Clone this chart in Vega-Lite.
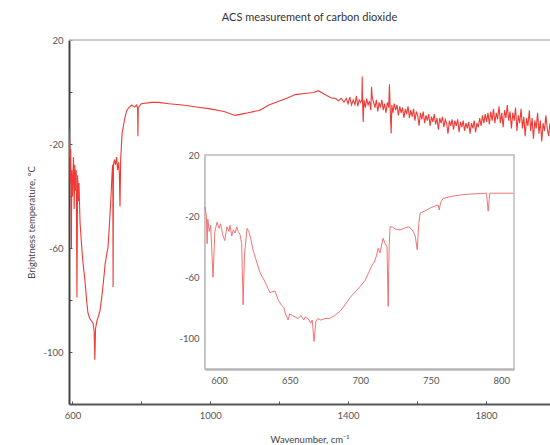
{
  "$schema": "https://vega.github.io/schema/vega-lite/v6.json",
  "autosize": {"type": "none"},
  "padding": {"left": 69, "top": 40, "right": 0, "bottom": 41},
  "width": 481,
  "height": 364,
  "background": "white",
  "config": {
    "view": {"stroke": null},
    "font": "Lato",
    "axis": {"grid": false, "labelFont": "Lato", "titleFont": "Lato", "labelFontSize": 9.5, "titleFontSize": 9.5, "titleFontWeight": "normal", "labelColor": "#555", "titleColor": "#444"}
  },
  "title": {"text": "ACS measurement of carbon dioxide", "fontSize": 11, "fontWeight": "normal", "color": "#333", "font": "Lato", "anchor": "middle", "frame": "group", "offset": 12},
  "datasets": {
    "main": [
      {"w":590,"t":-14},{"w":591,"t":-25},{"w":592,"t":-18},{"w":594,"t":-35},{"w":595,"t":-22},{"w":597,"t":-60},{"w":598,"t":-30},{"w":600,"t":-40},{"w":603,"t":-25},{"w":605,"t":-45},{"w":607,"t":-28},{"w":609,"t":-38},{"w":611,"t":-30},{"w":613,"t":-79},{"w":615,"t":-32},{"w":617,"t":-42},{"w":619,"t":-35},{"w":622,"t":-50},{"w":626,"t":-58},{"w":630,"t":-65},{"w":636,"t":-72},{"w":641,"t":-80},{"w":645,"t":-85},{"w":650,"t":-87},{"w":655,"t":-88},{"w":660,"t":-89},{"w":663,"t":-92},{"w":665,"t":-103},{"w":667,"t":-91},{"w":671,"t":-88},{"w":676,"t":-86},{"w":680,"t":-84},{"w":685,"t":-79},{"w":690,"t":-73},{"w":695,"t":-66},{"w":700,"t":-62},{"w":703,"t":-60},{"w":706,"t":-54},{"w":709,"t":-47},{"w":712,"t":-40},{"w":714,"t":-34},{"w":716,"t":-29},{"w":717,"t":-28},{"w":718,"t":-75},{"w":719,"t":-28},{"w":722,"t":-26},{"w":725,"t":-28},{"w":728,"t":-25},{"w":731,"t":-30},{"w":734,"t":-27},{"w":736,"t":-31},{"w":738,"t":-44},{"w":740,"t":-26},{"w":744,"t":-16},{"w":748,"t":-13},{"w":752,"t":-10},{"w":758,"t":-7},{"w":764,"t":-6},{"w":772,"t":-5},{"w":780,"t":-5.8},{"w":786,"t":-5},{"w":789,"t":-6},{"w":790,"t":-17},{"w":791,"t":-6},{"w":800,"t":-4.5},{"w":830,"t":-4},{"w":850,"t":-4},{"w":880,"t":-4.5},{"w":920,"t":-5},{"w":960,"t":-5.8},{"w":1000,"t":-6.5},{"w":1040,"t":-7.5},{"w":1072,"t":-9},{"w":1090,"t":-8.5},{"w":1110,"t":-8},{"w":1144,"t":-7},{"w":1170,"t":-5},{"w":1189,"t":-4},{"w":1220,"t":-2.5},{"w":1247,"t":-1},{"w":1280,"t":-0.5},{"w":1300,"t":-0.2},{"w":1314,"t":0.5},{"w":1330,"t":-0.8},{"w":1350,"t":-2.2},{"w":1365,"t":-2.6},{"w":1372,"t":-3.4},{"w":1380,"t":-2.4},{"w":1388,"t":-3.9},
      {"w":1395,"t":-2.5},{"w":1400,"t":-4.5},{"w":1405,"t":-2},{"w":1410,"t":-5},{"w":1415,"t":-3},{"w":1420,"t":-4.8},{"w":1424,"t":-1.5},{"w":1428,"t":-5.5},{"w":1432,"t":-3},{"w":1436,"t":-4},{"w":1440,"t":-3},{"w":1441,"t":6},{"w":1442,"t":-4},{"w":1444,"t":-11.5},{"w":1446,"t":-3},{"w":1450,"t":-6},{"w":1454,"t":-2.5},{"w":1458,"t":-5},{"w":1462,"t":-3.5},{"w":1466,"t":-7},{"w":1468,"t":2},{"w":1470,"t":-2},{"w":1474,"t":-4},{"w":1478,"t":-6},{"w":1482,"t":-3},{"w":1486,"t":-7.5},{"w":1490,"t":-4},{"w":1494,"t":-6},{"w":1498,"t":-3},{"w":1502,"t":-7},{"w":1506,"t":-4.5},{"w":1510,"t":-8},{"w":1514,"t":-4},{"w":1518,"t":-6},{"w":1520,"t":3},{"w":1522,"t":-6},{"w":1525,"t":-16},{"w":1527,"t":-5},{"w":1530,"t":-8},{"w":1534,"t":-4.5},{"w":1538,"t":-7},{"w":1542,"t":-5},{"w":1546,"t":-9},{"w":1550,"t":-5.5},{"w":1554,"t":-8},{"w":1558,"t":-6},{"w":1562,"t":-10},{"w":1566,"t":-6.5},{"w":1570,"t":-8.5},{"w":1574,"t":-5.5},{"w":1578,"t":-10},{"w":1582,"t":-7},{"w":1586,"t":-9.5},{"w":1590,"t":-6.5},{"w":1594,"t":-11},{"w":1598,"t":-7.5},{"w":1602,"t":-9},{"w":1606,"t":-13},{"w":1610,"t":-8},{"w":1614,"t":-10.5},{"w":1618,"t":-7.5},{"w":1622,"t":-12},{"w":1626,"t":-9},{"w":1630,"t":-11},{"w":1634,"t":-8.5},{"w":1638,"t":-13},{"w":1642,"t":-9.5},{"w":1646,"t":-11.5},{"w":1650,"t":-8.5},{"w":1654,"t":-12.5},{"w":1658,"t":-10},{"w":1662,"t":-14.5},{"w":1666,"t":-10},{"w":1670,"t":-12},{"w":1674,"t":-9.5},{"w":1678,"t":-13.5},{"w":1682,"t":-10.5},{"w":1686,"t":-12},{"w":1690,"t":-16},{"w":1694,"t":-11},{"w":1698,"t":-13},{"w":1702,"t":-10.5},{"w":1706,"t":-14.5},{"w":1710,"t":-11},{"w":1714,"t":-13},{"w":1718,"t":-10.5},{"w":1722,"t":-15.5},{"w":1726,"t":-11.5},{"w":1730,"t":-13.5},{"w":1734,"t":-11},{"w":1738,"t":-15},{"w":1742,"t":-12},{"w":1746,"t":-14},{"w":1750,"t":-11.5},{"w":1754,"t":-16},{"w":1758,"t":-12},{"w":1762,"t":-14},{"w":1766,"t":-11},{"w":1770,"t":-15.5},{"w":1774,"t":-12},{"w":1778,"t":-13.5},{"w":1782,"t":-10},{"w":1786,"t":-13},{"w":1790,"t":-9},{"w":1794,"t":-12},{"w":1798,"t":-8.5},{"w":1802,"t":-11.5},{"w":1806,"t":-8},{"w":1810,"t":-12.5},{"w":1814,"t":-7.5},{"w":1818,"t":-11},{"w":1822,"t":-6.5},{"w":1826,"t":-12},{"w":1830,"t":-8},{"w":1834,"t":-10.5},{"w":1838,"t":-5.5},{"w":1842,"t":-12},{"w":1846,"t":-8},{"w":1850,"t":-13.5},{"w":1854,"t":-7},{"w":1858,"t":-10},{"w":1862,"t":-5},{"w":1866,"t":-11},{"w":1870,"t":-7.5},{"w":1874,"t":-14},{"w":1878,"t":-8},{"w":1882,"t":-11},{"w":1886,"t":-6},{"w":1890,"t":-15},{"w":1894,"t":-9},{"w":1898,"t":-12},{"w":1902,"t":-6.5},{"w":1906,"t":-14},{"w":1910,"t":-9.5},{"w":1914,"t":-17},{"w":1918,"t":-10},{"w":1922,"t":-13},{"w":1926,"t":-7},{"w":1930,"t":-15},{"w":1934,"t":-10},{"w":1938,"t":-18},{"w":1942,"t":-11},{"w":1946,"t":-14},{"w":1950,"t":-8},{"w":1954,"t":-16},{"w":1958,"t":-11},{"w":1962,"t":-19},{"w":1966,"t":-12},{"w":1970,"t":-15},{"w":1974,"t":-9},{"w":1978,"t":-14},{"w":1982,"t":-17},{"w":1986,"t":-12}
    ],
    "inset": [
      {"w":590,"t":-14},{"w":591,"t":-20},{"w":591.5,"t":-38},{"w":592,"t":-22},{"w":593,"t":-30},{"w":594,"t":-26},{"w":595.7,"t":-60},{"w":597,"t":-30},{"w":598.5,"t":-24},{"w":600,"t":-28},{"w":601,"t":-25},{"w":602.5,"t":-32},{"w":604,"t":-36},{"w":605.5,"t":-27},{"w":607,"t":-30},{"w":607.7,"t":-26},{"w":609,"t":-33},{"w":610,"t":-29},{"w":611.3,"t":-31},{"w":612.5,"t":-27},{"w":613.5,"t":-30},{"w":614.8,"t":-32},{"w":616,"t":-38},{"w":617,"t":-78},{"w":618,"t":-45},{"w":619.8,"t":-28},{"w":621,"t":-30},{"w":622.5,"t":-35},{"w":624,"t":-42},{"w":626,"t":-48},{"w":629,"t":-57},{"w":632,"t":-62},{"w":636,"t":-70},{"w":639.6,"t":-69},{"w":642,"t":-75},{"w":644,"t":-78},{"w":646,"t":-80},{"w":646.7,"t":-83},{"w":648.9,"t":-88},{"w":650,"t":-84},{"w":652,"t":-85},{"w":654,"t":-86},{"w":656,"t":-87},{"w":658,"t":-85},{"w":660,"t":-88},{"w":661,"t":-86},{"w":663,"t":-87},{"w":665,"t":-90},{"w":666,"t":-88},{"w":667.3,"t":-102},{"w":668.5,"t":-89},{"w":670,"t":-87},{"w":672,"t":-88},{"w":675,"t":-87},{"w":678,"t":-87},{"w":682,"t":-85},{"w":686,"t":-82},{"w":690,"t":-77},{"w":693,"t":-73},{"w":697,"t":-69},{"w":700,"t":-66},{"w":703.5,"t":-62},{"w":706,"t":-57},{"w":708.4,"t":-52},{"w":710,"t":-50},{"w":711.5,"t":-46},{"w":712.7,"t":-41},{"w":714,"t":-44},{"w":716.2,"t":-34.5},{"w":717.7,"t":-38},{"w":719,"t":-40},{"w":719.8,"t":-79},{"w":720.5,"t":-40},{"w":721.2,"t":-27},{"w":722.6,"t":-27},{"w":725,"t":-28.5},{"w":728.3,"t":-29},{"w":731,"t":-28},{"w":734,"t":-27},{"w":736,"t":-28},{"w":737.5,"t":-30},{"w":739,"t":-33},{"w":740.4,"t":-42},{"w":741.5,"t":-25},{"w":742.5,"t":-18},{"w":746,"t":-16.5},{"w":750,"t":-14.5},{"w":754.5,"t":-12.8},{"w":755.5,"t":-13},{"w":756,"t":-16},{"w":757,"t":-11},{"w":758.8,"t":-8.4},{"w":765,"t":-7},{"w":772,"t":-6},{"w":778,"t":-5.6},{"w":785,"t":-5.2},{"w":789.5,"t":-5},{"w":790.7,"t":-16.7},{"w":791.8,"t":-5},{"w":800,"t":-5},{"w":808.5,"t":-5}
    ]
  },
  "layer": [
    {
      "layer": [
        {
          "data": {"name": "main"},
          "mark": {"type": "line", "color": "#ee3b36", "strokeWidth": 1.1, "clip": true},
          "encoding": {
            "x": {"field": "w", "type": "quantitative", "scale": {"domain": [590, 1986], "nice": false, "zero": false},
              "axis": {"values": [600, 800, 1000, 1200, 1400, 1600, 1800], "labelExpr": "((datum.value - 600) % 400 == 0) ? '' + datum.value : ''", "title": "Wavenumber, cm⁻¹", "domainColor": "#555", "domainWidth": 2, "tickColor": "#555", "tickSize": -3, "tickWidth": 1, "labelPadding": 9, "titlePadding": 15, "labelFlush": false}},
            "y": {"field": "t", "type": "quantitative", "scale": {"domain": [-120, 20], "nice": false, "zero": false},
              "axis": {"values": [20, 0, -20, -40, -60, -80, -100], "labelExpr": "((datum.value - 20) % 40 == 0) ? '' + datum.value : ''", "title": "Brightness temperature, ºC", "domainColor": "#444", "domainWidth": 2, "tickColor": "#555", "tickSize": -3, "tickWidth": 1, "labelPadding": 9, "titlePadding": 6, "labelFlush": false}}
          }
        },
        {
          "data": {"values": [{}]},
          "mark": {"type": "rule", "color": "#bbb", "strokeWidth": 1.5},
          "encoding": {"y": {"datum": 20}}
        }
      ]
    },
    {
      "layer": [
        {
          "data": {"values": [{}]},
          "mark": {"type": "rect", "fill": "white", "stroke": "#bbb", "strokeWidth": 1.5},
          "encoding": {
            "x": {"datum": 590}, "x2": {"datum": 809},
            "y": {"datum": -120}, "y2": {"datum": 20}
          }
        },
        {
          "data": {"name": "inset"},
          "mark": {"type": "line", "color": "#f06464", "strokeWidth": 0.9},
          "encoding": {
            "x": {"field": "w", "type": "quantitative", "scale": {"domain": [590, 809], "range": [136, 445], "nice": false, "zero": false},
              "axis": {"orient": "bottom", "offset": -35, "values": [600, 625, 650, 675, 700, 725, 750, 775, 800], "labelExpr": "(datum.value % 50 == 0) ? '' + datum.value : ''", "title": null, "domainColor": "#999", "domainWidth": 2, "tickColor": "#999", "tickSize": -3, "labelPadding": 9, "labelFlush": false}},
            "y": {"field": "t", "type": "quantitative", "scale": {"domain": [-120, 20], "range": [329, 115], "nice": false, "zero": false},
              "axis": {"orient": "left", "offset": -136, "values": [20, 0, -20, -40, -60, -80, -100], "labelExpr": "((datum.value - 20) % 40 == 0) ? '' + datum.value : ''", "title": null, "domainColor": "#999", "domainWidth": 2, "tickColor": "#999", "tickSize": -3, "labelPadding": 9, "labelFlush": false}}
          }
        }
      ]
    }
  ],
  "resolve": {"scale": {"x": "independent", "y": "independent"}}
}
